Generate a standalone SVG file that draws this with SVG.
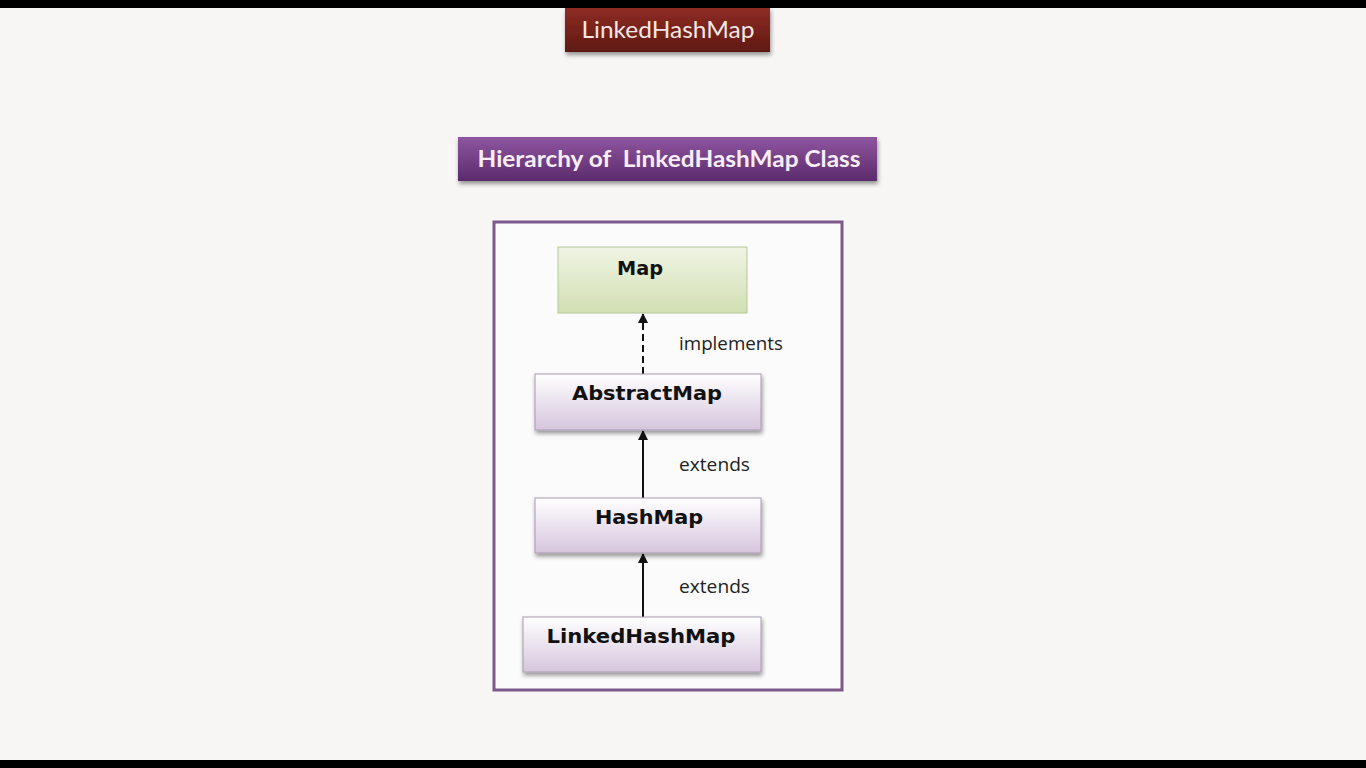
<svg xmlns="http://www.w3.org/2000/svg" width="1366" height="768" viewBox="0 0 1366 768">
<defs>
<linearGradient id="gRed" x1="0" y1="0" x2="0" y2="1">
<stop offset="0" stop-color="#8e2c24"/><stop offset="1" stop-color="#5f1912"/>
</linearGradient>
<linearGradient id="gPurple" x1="0" y1="0" x2="0" y2="1">
<stop offset="0" stop-color="#8e56a0"/><stop offset="1" stop-color="#5c2a6c"/>
</linearGradient>
<linearGradient id="gGreen" x1="0" y1="0" x2="0" y2="1">
<stop offset="0" stop-color="#eff4e3"/><stop offset="1" stop-color="#d2dfb3"/>
</linearGradient>
<linearGradient id="gLav" x1="0" y1="0" x2="0" y2="1">
<stop offset="0" stop-color="#ffffff"/><stop offset="1" stop-color="#d5c5dc"/>
</linearGradient>
<filter id="sh" x="-10%" y="-20%" width="130%" height="160%">
<feDropShadow dx="1" dy="3" stdDeviation="2" flood-color="#000" flood-opacity="0.4"/>
</filter>
<marker id="arr" viewBox="0 0 10 10" refX="9" refY="5" markerWidth="10" markerHeight="10" markerUnits="userSpaceOnUse" orient="auto">
<path d="M0,0 L10,5 L0,10 Z" fill="#111"/>
</marker>
</defs>
<style>
.node-t{font-family:"DejaVu Sans",Verdana,sans-serif;font-weight:bold;font-size:19px;fill:#111;text-anchor:middle}
.lbl{font-family:"Open Sans","Noto Sans",sans-serif;font-size:18px;fill:#222}
.lav{fill:url(#gLav);stroke:#a89aae;stroke-width:1}
.conn{stroke:#111;stroke-width:2;fill:none;marker-end:url(#arr)}
</style>
<rect x="0" y="0" width="1366" height="768" fill="#f7f6f5"/>
<rect x="0" y="0" width="1366" height="8" fill="#000"/>
<rect x="0" y="760" width="1366" height="8" fill="#000"/>

<g id="title">
<rect x="565" y="8" width="205" height="44" fill="url(#gRed)" filter="url(#sh)"/>
<text x="668" y="38" font-family="Lato,'Open Sans',sans-serif" font-size="23" fill="#f4e6e4" text-anchor="middle" textLength="173" lengthAdjust="spacingAndGlyphs">LinkedHashMap</text>
</g>

<g id="subtitle">
<rect x="458" y="137" width="419" height="44" fill="url(#gPurple)" filter="url(#sh)"/>
<text x="669" y="167" font-family="Lato,'Open Sans',sans-serif" font-weight="bold" font-size="23" fill="#f8eef9" text-anchor="middle" textLength="383" lengthAdjust="spacingAndGlyphs" xml:space="preserve">Hierarchy of  LinkedHashMap Class</text>
</g>

<g id="frame">
<rect x="494" y="222" width="348" height="468" fill="#fbfbfb" stroke="#7d5a8b" stroke-width="3"/>
</g>

<g id="connectors">
<line x1="643" y1="374" x2="643" y2="314" class="conn" stroke-dasharray="7,4"/>
<line x1="643" y1="498" x2="643" y2="431" class="conn"/>
<line x1="643" y1="617" x2="643" y2="554" class="conn"/>
<text x="679" y="350" class="lbl" textLength="104" lengthAdjust="spacingAndGlyphs">implements</text>
<text x="679" y="471" class="lbl" textLength="71" lengthAdjust="spacingAndGlyphs">extends</text>
<text x="679" y="593" class="lbl" textLength="71" lengthAdjust="spacingAndGlyphs">extends</text>
</g>

<g id="map">
<rect x="558" y="247" width="189" height="66" fill="url(#gGreen)" stroke="#b7c69b" stroke-width="1"/>
<text x="640" y="275" class="node-t" textLength="46" lengthAdjust="spacingAndGlyphs">Map</text>
</g>

<g id="abstractmap">
<rect x="535" y="374" width="226" height="56" class="lav" filter="url(#sh)"/>
<text x="647" y="400" class="node-t" textLength="150" lengthAdjust="spacingAndGlyphs">AbstractMap</text>
</g>

<g id="hashmap">
<rect x="535" y="498" width="226" height="55" class="lav" filter="url(#sh)"/>
<text x="649" y="524" class="node-t" textLength="108" lengthAdjust="spacingAndGlyphs">HashMap</text>
</g>

<g id="linkedhashmap">
<rect x="523" y="617" width="238" height="55" class="lav" filter="url(#sh)"/>
<text x="641" y="643" class="node-t" textLength="189" lengthAdjust="spacingAndGlyphs">LinkedHashMap</text>
</g>
</svg>
